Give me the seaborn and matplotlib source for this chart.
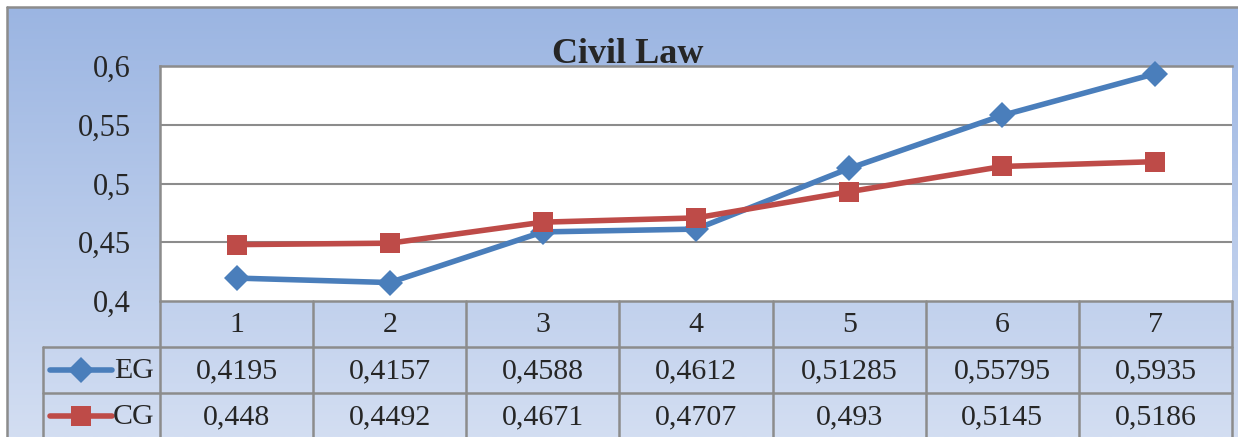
import numpy as np
import pandas as pd
import matplotlib
matplotlib.use("Agg")
import matplotlib.pyplot as plt
from matplotlib.lines import Line2D
from matplotlib.ticker import FuncFormatter
import seaborn as sns

sessions = [1, 2, 3, 4, 5, 6, 7]
eg_values = [0.4195, 0.4157, 0.4588, 0.4612, 0.51285, 0.55795, 0.5935]
cg_values = [0.448, 0.4492, 0.4671, 0.4707, 0.493, 0.5145, 0.5186]
eg_labels = ["0,4195", "0,4157", "0,4588", "0,4612", "0,51285", "0,55795", "0,5935"]
cg_labels = ["0,448", "0,4492", "0,4671", "0,4707", "0,493", "0,5145", "0,5186"]
y_ticks = [0.4, 0.45, 0.5, 0.55, 0.6]

BLUE = "#4A7EBB"
RED = "#BE4B48"
GRID = "#8C8C8C"
FS = 21.5

sns.set_style("white")
plt.rcParams["font.family"] = ["Liberation Serif", "DejaVu Serif"]

df = pd.DataFrame({
    "session": sessions * 2,
    "value": eg_values + cg_values,
    "group": ["EG"] * 7 + ["CG"] * 7,
})

W, H = 1238, 437
fig = plt.figure(figsize=(W / 100, H / 100), dpi=100)


def box(l, t, r, b):
    return [l / W, 1 - b / H, (r - l) / W, (b - t) / H]


# chart area gradient background
bg = fig.add_axes(box(7, 7, W, H), zorder=0)
grad = np.linspace(0, 1, 256)[:, None]
top_c = np.array([0x9B, 0xB5, 0xE2]) / 255
bot_c = np.array([0xD3, 0xDE, 0xF2]) / 255
img = top_c[None, None, :] * (1 - grad[..., None]) + bot_c[None, None, :] * grad[..., None]
bg.imshow(img, aspect="auto", extent=[0, 1, 0, 1])
bg.set_axis_off()
fig.add_artist(Line2D([7 / W, 7 / W], [0, 1 - 7 / H], color=GRID, lw=1.8))
fig.add_artist(Line2D([7 / W, 1], [1 - 7 / H, 1 - 7 / H], color=GRID, lw=1.8))

# plot area
ax = fig.add_axes(box(160, 66, 1232, 301), zorder=2)
ax.set_facecolor("white")
styles = {"EG": (BLUE, "D", 13), "CG": (RED, "s", 15)}
for grp in ["EG", "CG"]:
    color, mk, ms = styles[grp]
    sns.lineplot(data=df[df["group"] == grp], x="session", y="value", ax=ax,
                 color=color, marker=mk, markersize=ms, markeredgewidth=0,
                 linewidth=4, legend=False, clip_on=False, zorder=3)
ax.set_xlim(0.5, 7.5)
ax.set_ylim(0.4, 0.6)
ax.set_yticks(y_ticks)
ax.yaxis.set_major_formatter(FuncFormatter(lambda v, p: f"{v:g}".replace(".", ",")))
ax.set_xticks([])
ax.set_xlabel("")
ax.set_ylabel("")
ax.tick_params(axis="y", length=0, pad=21, labelsize=FS + 0.5)
for v in y_ticks[1:-1]:
    ax.axhline(v, color=GRID, lw=1.5, zorder=1)
for side in ["right", "bottom"]:
    ax.spines[side].set_visible(False)
for side in ["left", "top"]:
    ax.spines[side].set_color(GRID)
    ax.spines[side].set_linewidth(1.8)

fig.text(628 / W, 1 - 63 / H, "Civil Law", ha="center", va="baseline",
         fontsize=26, fontweight="bold")

# data table under the plot
col_w = (1232 - 160) / 7
x0 = 0.5 - (160 - 43) / col_w
tab = fig.add_axes(box(43, 301, 1232, 301 + 3 * 46), zorder=2)
tab.set_xlim(x0, 7.5)
tab.set_ylim(0, 3)
tab.set_axis_off()


def px(xp):
    return 0.5 + (xp - 160) / col_w


lk = dict(color=GRID, lw=1.8, clip_on=False)
tab.plot([0.5, 7.5], [3, 3], **lk)
for yy in [2, 1, 0]:
    tab.plot([x0, 7.5], [yy, yy], **lk)
for xx in np.arange(0.5, 8.0, 1.0):
    tab.plot([xx, xx], [0, 3], **lk)
tab.plot([x0, x0], [0, 2], **lk)

for i, s in enumerate(sessions):
    tab.text(s, 2.47, str(s), ha="center", va="center", fontsize=FS)
    tab.text(s, 1.47, eg_labels[i], ha="center", va="center", fontsize=FS)
    tab.text(s, 0.47, cg_labels[i], ha="center", va="center", fontsize=FS)

for row, grp in [(1.5, "EG"), (0.5, "CG")]:
    color, mk, ms = styles[grp]
    tab.plot([px(50), px(112)], [row, row], color=color, lw=4, solid_capstyle="round")
    tab.plot([px(81)], [row], color=color, marker=mk, markersize=ms, markeredgewidth=0)
    tab.text(px(154), row - 0.03, grp, ha="right", va="center", fontsize=FS)

fig.savefig("out.png", dpi=100)
